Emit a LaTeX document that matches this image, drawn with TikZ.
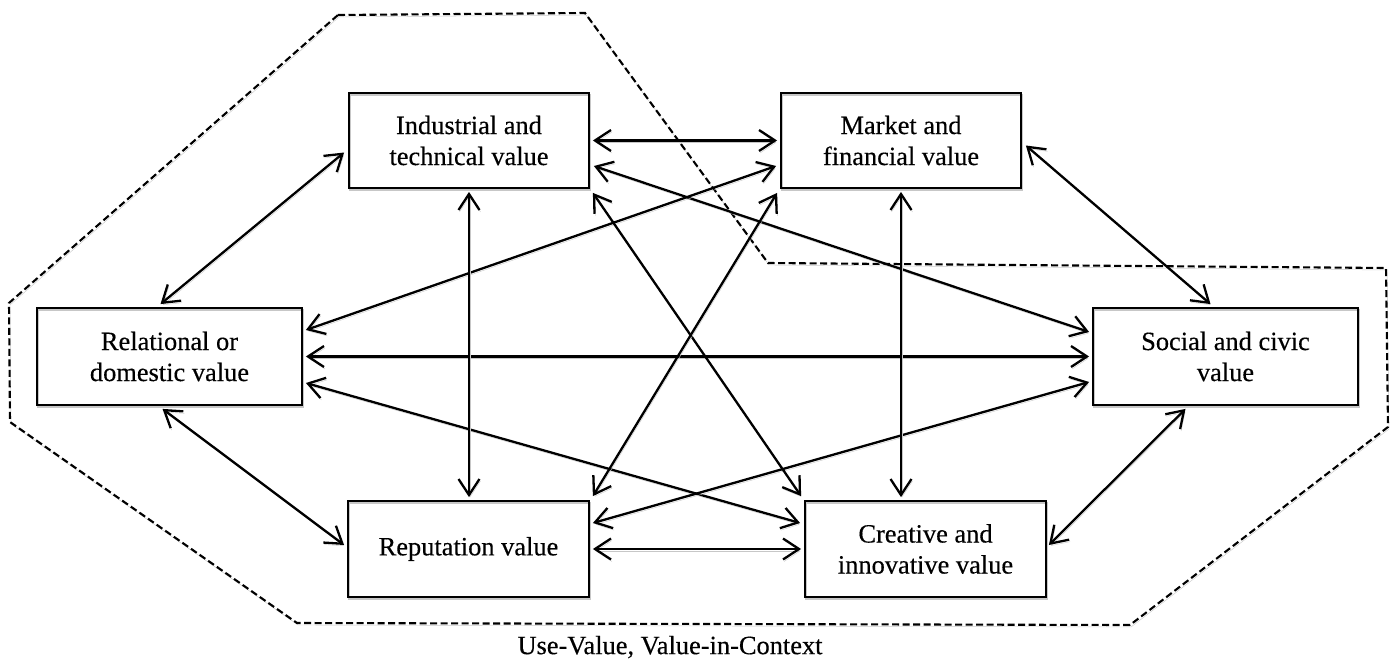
\documentclass[tikz,border=0pt]{standalone}
\usepackage{fontspec}
\setmainfont{Liberation Serif}[FakeBold=0.35]
\usetikzlibrary{arrows.meta,calc}
\begin{document}
\begin{tikzpicture}[x=1pt,y=-1pt,
  >={Straight Barb[length=16pt,width=21pt]},
  shadowed/.style={preaction={draw=black!22, transform canvas={shift={(1pt,-2pt)}}}},
  txt/.style={font=\fontsize{26.4}{31}\selectfont},
  vbox/.style={txt, draw, line width=1.8pt, align=center, inner sep=0pt, shadowed},
  wide/.style={vbox, minimum width=240pt, minimum height=95pt},
  wider/.style={vbox, minimum width=265pt, minimum height=97pt},
  conn/.style={<->, line width=2.3pt, shadowed},
  boundary/.style={line width=2.1pt, dash pattern=on 7pt off 3.5pt, shadowed}]
\useasboundingbox (0,0) rectangle (1397,661);

% outer dashed boundary
\draw[boundary] (338,15) -- (585,13) -- (768,263) -- (1386,268) -- (1388,427)
  -- (1130,625) -- (297,623) -- (10,422) -- (9,303) -- cycle;

% boxes
\node[wide] (ind) at (469,140.5) {Industrial and\\technical value};
\node[wide] (mkt) at (901,140.5) {Market and\\financial value};
\node[wider] (rel) at (169.5,356.5) {Relational or\\domestic value};
\node[wider] (soc) at (1225.5,356.5) {Social and civic\\value};
\node[wide, minimum width=241pt, minimum height=96pt] (rep) at (468.5,549) {Reputation value};
\node[wide, minimum width=241pt, minimum height=96pt] (cre) at (925.5,549) {Creative and\\innovative value};

% caption
\node[txt] (cap) at (670,647) {Use-Value, Value-in-Context};

% connectors
\draw[conn] ($(ind.east)+(3,0)$) -- ($(mkt.west)+(-3,0)$);
\draw[conn] ($(ind.east)+(4,25.5)$) -- ($(soc.west)+(-3,-24.5)$);
\draw[conn] ($(mkt.west)+(-4,25.5)$) -- ($(rel.east)+(3,-26.5)$);
\draw[conn] ($(rel.east)+(3,0)$) -- ($(soc.west)+(-3,0)$);
\draw[conn] ($(rel.east)+(3,26.5)$) -- ($(cre.west)+(-4,-26)$);
\draw[conn] ($(soc.west)+(-3,25.5)$) -- ($(rep.east)+(3,-26)$);
\draw[conn] ($(rep.east)+(3,0)$) -- ($(cre.west)+(-3,0)$);
\draw[conn] ($(ind.south)+(0,3)$) -- ($(ind.south |- rep.north)+(0,-3)$);
\draw[conn] ($(mkt.south)+(0,3)$) -- ($(mkt.south |- cre.north)+(0,-3)$);
\draw[conn] ($(ind.south east)+(3,4)$) -- ($(cre.north west)+(-3,-4)$);
\draw[conn] ($(mkt.south west)+(-3,4)$) -- ($(rep.north east)+(3,-4)$);
\draw[conn] ($(ind.west)+(-4,12)$) -- ($(rel.north)+(-9,-3)$);
\draw[conn] ($(mkt.east)+(4,5)$) -- ($(soc.north)+(-15,-3)$);
\draw[conn] ($(rel.south)+(-7,3)$) -- ($(rep.west)+(-3,-4)$);
\draw[conn] ($(soc.south)+(-40,3)$) -- ($(cre.east)+(2,-4)$);
\end{tikzpicture}
\end{document}
